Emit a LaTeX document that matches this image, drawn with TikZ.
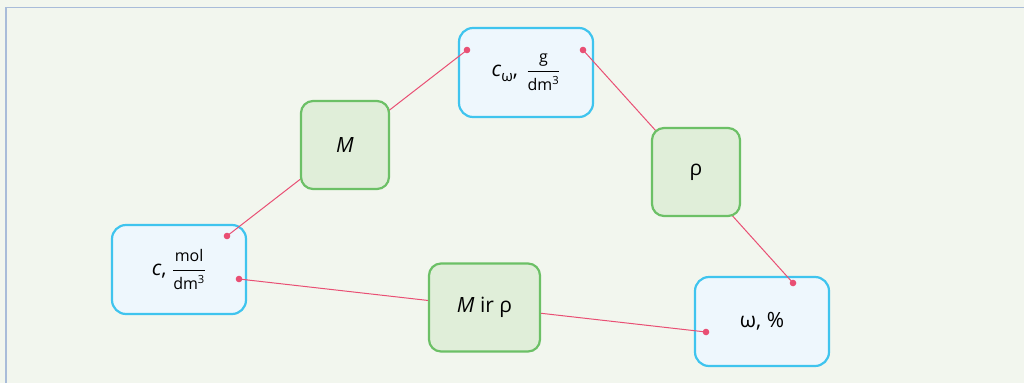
\documentclass[tikz,border=0pt]{standalone}
\usepackage{amsmath}
\usepackage{fontspec}
\setmainfont{Open Sans}
\definecolor{bg}{HTML}{F2F6EE}
\definecolor{frameline}{HTML}{A9BCD9}
\definecolor{bluedraw}{HTML}{3FC4EE}
\definecolor{bluefill}{HTML}{EEF7FD}
\definecolor{greendraw}{HTML}{6CC066}
\definecolor{greenfill}{HTML}{E0EED9}
\definecolor{pinkline}{HTML}{E94F74}
\newcommand{\ufr}[2]{$\dfrac{\text{\fontsize{16}{16}\selectfont #1}}{\text{\fontsize{16}{16}\selectfont #2}}$}
\tikzset{
  bluebox/.style={draw=bluedraw, fill=bluefill, line width=2.2pt, rounded corners=14pt,
    minimum width=134pt, minimum height=89pt, inner sep=0pt, font=\fontsize{21}{24}\selectfont},
  greenbox/.style={draw=greendraw, fill=greenfill, line width=2.2pt, rounded corners=12pt,
    minimum width=88pt, minimum height=88pt, inner sep=0pt, font=\fontsize{21}{24}\selectfont},
  link/.style={draw=pinkline, line width=1pt},
  enddot/.style={fill=pinkline, draw=none}
}
\begin{document}
\begin{tikzpicture}[x=1pt,y=-1pt]
\useasboundingbox (0,0) rectangle (1024,383);
\fill[bg] (0,0) rectangle (1024,383);
\draw[frameline, line width=1.2pt] (6,383) -- (6,7.5) -- (1024,7.5);
% blue boxes
\node[bluebox] (cw) at (526,72.5) {\textit{c}\raisebox{-0.45ex}{\fontsize{15}{15}\selectfont ω},\hspace{0.4em}\ufr{g}{dm\textsuperscript{3}}};
\node[bluebox] (cmol) at (179,269.5) {\textit{c}, \ufr{mol}{dm\textsuperscript{3}}};
\node[bluebox] (omega) at (762,321.5) {ω, \%};
% dots
\coordinate (d1) at (227,236);
\coordinate (d2) at (467,50);
\coordinate (d3) at (583,50);
\coordinate (d4) at (793,283);
\coordinate (d5) at (239,279);
\coordinate (d6) at (706,332);
\draw[link] (d1) -- (d2);
\draw[link] (d3) -- (d4);
\draw[link] (d5) -- (d6);
\foreach \d in {d1,d2,d3,d4,d5,d6} \fill[enddot] (\d) circle (3.3pt);
% green boxes
\node[greenbox] (M) at (345,145) {\textit{M}};
\node[greenbox] (rho) at (696,172) {ρ};
\node[greenbox, minimum width=111pt] (Mrho) at (484.5,307.5) {\textit{M} ir ρ};
\end{tikzpicture}
\end{document}
